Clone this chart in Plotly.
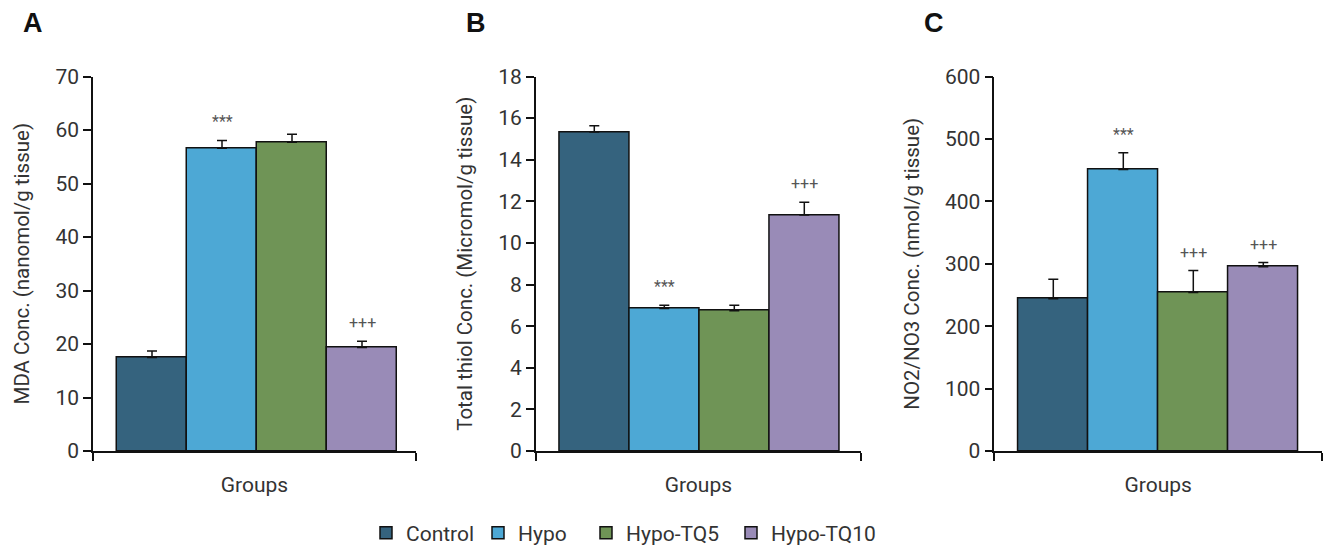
import plotly.graph_objects as go

W, H = 1330, 545

groups = ["Control", "Hypo", "Hypo-TQ5", "Hypo-TQ10"]
colors = ["#35637E", "#4DA8D5", "#6F9456", "#998BB7"]

mda_mean = [17.5, 56.6, 57.7, 19.35]
mda_err = [1.2, 1.45, 1.5, 1.15]
thiol_mean = [15.33, 6.85, 6.74, 11.34]
thiol_err = [0.3, 0.15, 0.26, 0.62]
nox_mean = [244, 451, 254, 295]
nox_err = [31, 27, 35, 7]

mda_labels = ["", "***", "", "+++"]
thiol_labels = ["", "***", "", "+++"]
nox_labels = ["", "***", "+++", "+++"]

y_titles = ["MDA Conc. (nanomol/g tissue)",
            "Total thiol Conc. (Micromol/g tissue)",
            "NO2/NO3 Conc. (nmol/g tissue)"]
y_ranges = [[0, 70], [0, 18], [0, 600]]
y_dticks = [10, 2, 100]
panel_letters = ["A", "B", "C"]

# pixel layout of each panel's axes (left, right), common top/bottom
panels_px = [(93, 416), (535.7, 861), (994.3, 1322)]
y_top_px, y_bot_px = 76.5, 451
bar_px = 70.0
left_gap_px = [24, 23.6, 24]

FONT = "Roboto"
TXT = "#333333"

fig = go.Figure()
means = [mda_mean, thiol_mean, nox_mean]
errs = [mda_err, thiol_err, nox_err]
labels = [mda_labels, thiol_labels, nox_labels]
legend_names = ["legend", "legend2", "legend3", "legend4"]

layout = dict(
    width=W, height=H, margin=dict(l=0, r=0, t=0, b=0, autoexpand=False),
    paper_bgcolor="white", plot_bgcolor="white",
    barmode="overlay", bargap=0,
    font=dict(family=FONT, size=19, color=TXT),
)

annotations = []
for p in range(3):
    ax = "" if p == 0 else str(p + 1)
    xl, xr = panels_px[p]
    width_units = (xr - xl) / bar_px
    r0 = -0.5 - left_gap_px[p] / bar_px
    xrange = [r0, r0 + width_units]
    for g in range(4):
        fig.add_trace(go.Bar(
            x=[g], y=[means[p][g]], width=1,
            name=groups[g], legendgroup=groups[g],
            legend=legend_names[g], showlegend=(p == 0),
            marker=dict(color=colors[g], line=dict(color="#111111", width=1.5)),
            error_y=dict(type="data", array=[errs[p][g]], arrayminus=[0],
                         symmetric=False, color="#111111", thickness=1.5, width=5),
            xaxis="x" + ax, yaxis="y" + ax,
        ))
        if labels[p][g]:
            annotations.append(dict(
                x=g, y=means[p][g] + errs[p][g], xref="x" + ax, yref="y" + ax,
                text=labels[p][g], showarrow=False, yanchor="bottom",
                yshift=7, font=dict(size=16, color="#555555", family=FONT)))
    eps = 1e-6
    layout["xaxis" + ax] = dict(
        domain=[xl / W, xr / W], range=xrange, anchor="y" + ax, automargin=False,
        showgrid=False, zeroline=False, showline=True, linecolor="#111111", linewidth=1.5,
        tickvals=[xrange[0] + eps, xrange[1] - eps], ticktext=["", ""],
        ticks="outside", ticklen=8, tickwidth=1.5, tickcolor="#111111",
        title=dict(text="Groups", standoff=14, font=dict(size=21, color=TXT)),
        fixedrange=True,
    )
    layout["yaxis" + ax] = dict(
        domain=[1 - y_bot_px / H, 1 - y_top_px / H], range=y_ranges[p],
        anchor="x" + ax, dtick=y_dticks[p], automargin=False,
        showgrid=False, zeroline=False, showline=True, linecolor="#111111", linewidth=1.5,
        ticks="outside", ticklen=8, tickwidth=1.5, tickcolor="#111111",
        tickfont=dict(size=21, color=TXT),
        title=dict(text=y_titles[p], standoff=20, font=dict(size=20.5, color=TXT)),
        fixedrange=True,
    )
    annotations.append(dict(
        x=xl / W - 60 / W, y=1 - 23 / H, xref="paper", yref="paper",
        text="<b>" + panel_letters[p] + "</b>", showarrow=False,
        xanchor="center", yanchor="middle",
        font=dict(size=27, color="#111111", family="Liberation Sans")))

layout["annotations"] = annotations

legend_x_px = [366, 478, 586, 731]
for i, ln in enumerate(legend_names):
    layout[ln] = dict(
        x=legend_x_px[i] / W, y=1 - 533 / H, xanchor="left", yanchor="middle",
        orientation="h", font=dict(size=21, color=TXT, family=FONT),
        bgcolor="rgba(0,0,0,0)", borderwidth=0,
    )

fig.update_layout(**layout)
fig.write_html("out.html", config={"displayModeBar": False},
               post_script="document.body.style.margin='0';document.body.style.overflow='hidden';")
